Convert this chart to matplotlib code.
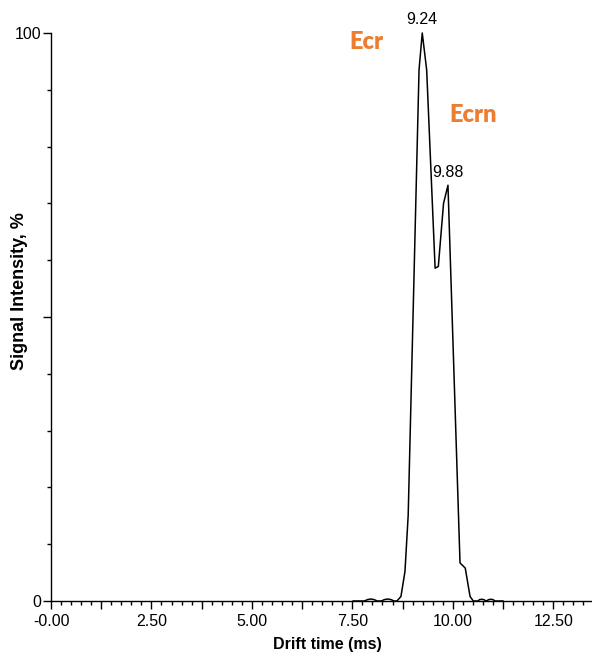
import matplotlib
matplotlib.use("Agg")
import matplotlib.pyplot as plt
from matplotlib.ticker import MultipleLocator, FuncFormatter

# Drift-time profile (ms) and relative signal intensity (%)
drift_time = [7.52, 7.80, 7.88, 7.96, 8.04, 8.12, 8.22, 8.30, 8.38, 8.46, 8.54,
              8.61, 8.71, 8.81, 8.89, 9.16, 9.24, 9.35, 9.56, 9.64, 9.77, 9.88,
              10.18, 10.31, 10.43, 10.51, 10.62, 10.67, 10.72, 10.77, 10.83,
              10.90, 10.95, 11.00, 11.05, 11.25]
intensity = [0, 0, 0.25, 0.35, 0.25, 0, 0, 0.25, 0.35, 0.25, 0,
             0, 0.8, 5.2, 15.1, 93.5, 100, 93.5, 58.6, 58.9, 70.0, 73.2,
             6.7, 5.8, 0.8, 0, 0, 0.25, 0.3, 0.25, 0,
             0.25, 0.3, 0.25, 0, 0]

peak_times = [9.24, 9.88]
peak_heights = [100, 73.2]
species = ["Ecr", "Ecrn"]
species_pos = [(7.84, 98.4), (10.50, 85.6)]

x_major = [0, 2.5, 5.0, 7.5, 10.0, 12.5]
y_labels = [0, 100]

plt.rcParams["font.family"] = ["Liberation Sans", "DejaVu Sans"]

W, H = 592, 655
fig = plt.figure(figsize=(W / 100, H / 100), dpi=100)
ax = fig.add_axes([51 / W, 54 / H, 540 / W, 568 / H])

ax.plot(drift_time, intensity, color="black", lw=1.1, clip_on=False)

ax.set_xlim(0, 13.44)
ax.set_ylim(0, 100)

for s in ("top", "right"):
    ax.spines[s].set_visible(False)
for s in ("left", "bottom"):
    ax.spines[s].set_linewidth(1.0)

# x axis: labelled every 2.5, long ticks every 1.25, short every 0.25
ax.xaxis.set_major_locator(MultipleLocator(1.25))
ax.xaxis.set_minor_locator(MultipleLocator(0.25))


def xfmt(v, pos):
    if any(abs(v - m) < 1e-6 for m in x_major):
        return "-0.00" if abs(v) < 1e-9 else f"{v:.2f}"
    return ""


ax.xaxis.set_major_formatter(FuncFormatter(xfmt))

# y axis: labels at 0 and 100, long ticks every 50, short every 10
ax.yaxis.set_major_locator(MultipleLocator(50))
ax.yaxis.set_minor_locator(MultipleLocator(10))
ax.yaxis.set_major_formatter(FuncFormatter(
    lambda v, p: f"{int(round(v))}" if int(round(v)) in y_labels else ""))

ax.tick_params(axis="x", which="major", length=6, width=1.0, pad=3,
               labelsize=11.5, direction="out")
ax.tick_params(axis="x", which="minor", length=3, width=1.0, direction="out")
ax.tick_params(axis="y", which="major", length=6, width=1.0, pad=1,
               labelsize=11.5, direction="out")
ax.tick_params(axis="y", which="minor", length=3, width=1.0, direction="out")

for t, h in zip(peak_times, peak_heights):
    ax.annotate(f"{t:.2f}", xy=(t, h), xytext=(0, 4), textcoords="offset points",
                ha="center", va="bottom", fontsize=11.5, annotation_clip=False)

for name, (sx, sy) in zip(species, species_pos):
    ax.text(sx, sy, name, ha="center", va="center", fontsize=17,
            fontweight="heavy", color="#ED7D31", family=["Lato", "DejaVu Sans"],
            clip_on=False)

fig.text(327 / W, 1 - 645 / H, "Drift time (ms)", ha="center", va="center",
         fontsize=11.5, fontweight="bold")
fig.text(20 / W, 1 - 291 / H, "Signal Intensity, %", ha="center", va="center",
         rotation=90, fontsize=13, fontweight="bold")

fig.savefig("out.png", dpi=100)
